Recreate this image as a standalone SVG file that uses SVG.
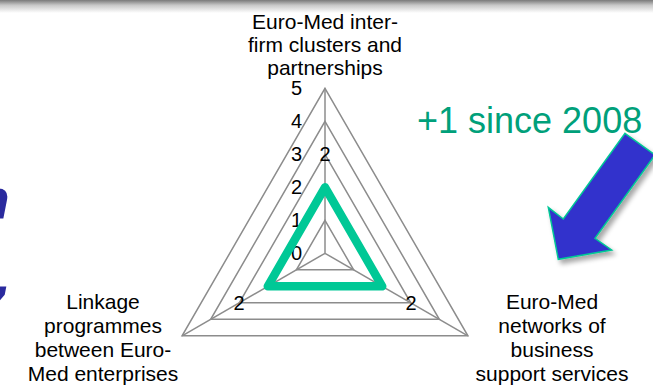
<svg xmlns="http://www.w3.org/2000/svg" width="653" height="388" viewBox="0 0 653 388">
<style>
text{font-family:"Liberation Sans",Arial,sans-serif;fill:#000}
.lbl{font-size:21px;text-anchor:middle}
.num{font-size:20px;text-anchor:end}
.val{font-size:20px;text-anchor:middle}
.ring{fill:none;stroke:#8c8c8c;stroke-width:1.5}
.spoke{stroke:#8c8c8c;stroke-width:1.5}
.title{font-family:"DejaVu Sans",Verdana,sans-serif;font-style:oblique;font-weight:bold;fill:#2a2a9e}
</style>
<defs>
<linearGradient id="bar" x1="0" y1="0" x2="0" y2="1">
<stop offset="0" stop-color="#7a7a7a"/>
<stop offset="0.4" stop-color="#c8c8c8"/>
<stop offset="1" stop-color="#ffffff"/>
</linearGradient>
<filter id="sh" x="-20%" y="-20%" width="150%" height="150%">
<feGaussianBlur in="SourceAlpha" stdDeviation="2.5"/>
<feOffset dx="3" dy="4" result="b"/>
<feComponentTransfer><feFuncA type="linear" slope="0.35"/></feComponentTransfer>
<feMerge><feMergeNode/><feMergeNode in="SourceGraphic"/></feMerge>
</filter>
</defs>
<rect width="653" height="388" fill="#fff"/>
<rect width="653" height="13" fill="url(#bar)"/>
<text class="title" x="-28" y="218" font-size="54">n</text>
<text class="title" x="-8" y="297" font-size="56">,</text>
<g id="grid">
<polygon class="ring" points="325,220.3 353.6,269.8 296.4,269.8"/>
<polygon class="ring" points="325,187.3 382.2,286.3 267.8,286.3"/>
<polygon class="ring" points="325,154.3 410.7,302.8 239.3,302.8"/>
<polygon class="ring" points="325,121.3 439.3,319.3 210.7,319.3"/>
<polygon class="ring" points="325,88.3 467.9,335.8 182.1,335.8"/>
<line class="spoke" x1="325" y1="253.3" x2="325" y2="88.3"/>
<line class="spoke" x1="325" y1="253.3" x2="467.9" y2="335.8"/>
<line class="spoke" x1="325" y1="253.3" x2="182.1" y2="335.8"/>
</g>
<g id="scale">
<text class="num" x="302" y="95">5</text>
<text class="num" x="302" y="128">4</text>
<text class="num" x="302" y="161">3</text>
<text class="num" x="302" y="194">2</text>
<text class="num" x="302" y="227">1</text>
<text class="num" x="302" y="260">0</text>
</g>
<g id="series">
<polygon points="325,187.3 382.2,286.3 267.8,286.3" fill="none" stroke="#00c896" stroke-width="8.5" stroke-linejoin="round"/>
<text class="val" x="325" y="161">2</text>
<text class="val" x="239" y="310">2</text>
<text class="val" x="411" y="310">2</text>
</g>
<g id="axis-top">
<text class="lbl" x="325" y="29">Euro-Med inter-</text>
<text class="lbl" x="325" y="52">firm clusters and</text>
<text class="lbl" x="325" y="75">partnerships</text>
</g>
<g id="axis-left">
<text class="lbl" x="103" y="309">Linkage</text>
<text class="lbl" x="103" y="333">programmes</text>
<text class="lbl" x="103" y="357">between Euro-</text>
<text class="lbl" x="103" y="381">Med enterprises</text>
</g>
<g id="axis-right">
<text class="lbl" x="552" y="309">Euro-Med</text>
<text class="lbl" x="552" y="333">networks of</text>
<text class="lbl" x="552" y="357">business</text>
<text class="lbl" x="552" y="381">support services</text>
</g>
<g id="note">
<text x="417" y="133" font-size="36" style="fill:#00a07a">+1 since 2008</text>
</g>
<g id="connectors">
<polygon filter="url(#sh)" points="625,133.3 655,155 595,238.3 611.7,250 558.3,259.3 548.3,207.3 563.3,219" fill="#3333cc" stroke="#00c896" stroke-width="1.5" stroke-linejoin="miter"/>
</g>
</svg>
